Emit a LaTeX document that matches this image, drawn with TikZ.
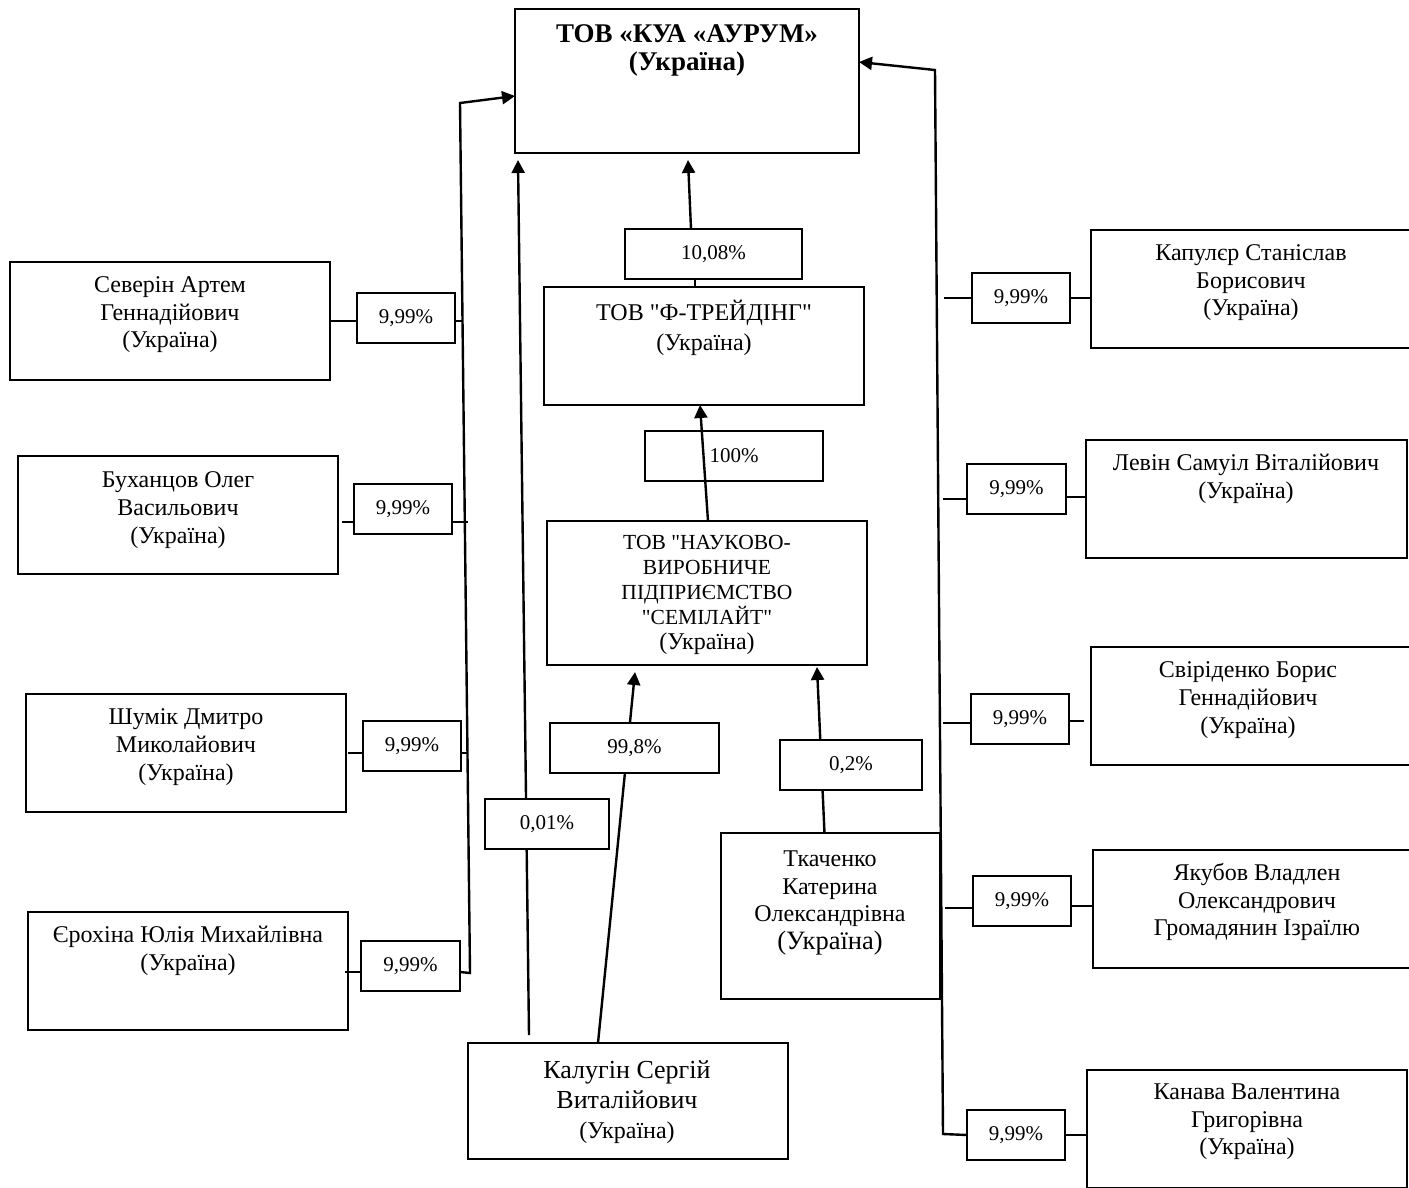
\documentclass[tikz,border=0pt]{standalone}
\usepackage{fontspec}
\setmainfont{Liberation Serif}
\usetikzlibrary{arrows.meta,backgrounds,calc}
\newcommand\qq{\XeTeXglyph\XeTeXcharglyph"22\relax}
\begin{document}
\begin{tikzpicture}[x=1pt,y=-1pt,
  box/.style={draw, line width=1.3pt, inner sep=0pt, outer sep=0pt},
  nm/.style={align=center, inner sep=0pt, font=\fontsize{24}{27.6}\selectfont},
  pct/.style={box, fill=white, minimum height=50pt, font=\fontsize{21}{24}\selectfont},
  ln/.style={line width=2pt},
  bus/.style={line width=2.4pt},
  arr/.style={line width=2.4pt, -{Triangle[length=13pt,width=13pt]}}]
\useasboundingbox (0,0) rectangle (1409,1187);
\clip (0,0) rectangle (1409,1187);

% main boxes
\node[box, minimum width=344pt, minimum height=144pt] (aur) at (687,81) {};
\node[nm, font=\fontsize{27}{28}\selectfont\bfseries] (aurt) at (687,50) {ТОВ «КУА «АУРУМ»\\(Україна)};
\node[box, minimum width=320pt, minimum height=118pt] (ftr) at (704,346) {};
\node[nm, font=\fontsize{24}{30}\selectfont] (ftrt) at (704,328) {ТОВ \qq Ф-ТРЕЙДІНГ\qq\\(Україна)};
\node[box, minimum width=320pt, minimum height=144pt] (sem) at (707,593) {};
\node[nm, font=\fontsize{21.5}{25}\selectfont] (semt) at (707,595) {ТОВ \qq НАУКОВО-\\ВИРОБНИЧЕ\\ПІДПРИЄМСТВО\\\qq СЕМІЛАЙТ\qq\\\fontsize{24}{26}\selectfont(Україна)};

% left persons
\node[box, minimum width=320pt, minimum height=118pt] (sev) at (170,321) {};
\node[nm] (sevt) at (170,315) {Северін Артем\\Геннадійович\\(Україна)};
\node[box, minimum width=320pt, minimum height=118pt] (buk) at (178,515) {};
\node[nm] (bukt) at (178,510) {Буханцов Олег\\Васильович\\(Україна)};
\node[box, minimum width=320pt, minimum height=118pt] (shu) at (186,753) {};
\node[nm] (shut) at (186,747) {Шумік Дмитро\\Миколайович\\(Україна)};
\node[box, minimum width=320pt, minimum height=118pt] (yer) at (188,971) {};
\node[nm] (yert) at (188,951) {Єрохіна Юлія Михайлівна\\(Україна)};

% right persons
\node[box, minimum width=320pt, minimum height=118pt] (kap) at (1251,289) {};
\node[nm] (kapt) at (1251,283) {Капулєр Станіслав\\Борисович\\(Україна)};
\node[box, minimum width=321pt, minimum height=118pt] (lev) at (1246.5,499) {};
\node[nm] (levt) at (1246,479) {Левін Самуіл Віталійович\\(Україна)};
\node[box, minimum width=320pt, minimum height=118pt] (svi) at (1251,706) {};
\node[nm] (svit) at (1248,700) {Свіріденко Борис\\Геннадійович\\(Україна)};
\node[box, minimum width=320pt, minimum height=118pt] (yak) at (1253,909) {};
\node[nm] (yakt) at (1257,902) {Якубов Владлен\\Олександрович\\Громадянин Ізраїлю};
\node[box, minimum width=320pt, minimum height=118pt] (kan) at (1247,1129) {};
\node[nm] (kant) at (1247,1122) {Канава Валентина\\Григорівна\\(Україна)};

% bottom persons
\node[box, minimum width=219pt, minimum height=166pt] (tka) at (830.5,916) {};
\node[nm] (tkat) at (830,903) {Ткаченко\\Катерина\\Олександрівна\\\fontsize{26.5}{30}\selectfont(Україна)};
\node[box, minimum width=320pt, minimum height=116pt] (kal) at (628,1101) {};
\node[nm, font=\fontsize{26}{30}\selectfont] (kalt) at (627,1102) {Калугін Сергій\\Виталійович\\\fontsize{24}{28}\selectfont(Україна)};

% percentage labels
\node[pct, minimum width=177pt] (p1008) at (713.5,254) {10,08\%};
\node[pct, minimum width=178pt] (p100) at (734,456) {100\%};
\node[pct, minimum width=124pt] (p001) at (547,824) {0,01\%};
\node[pct, minimum width=169pt] (p998) at (634.5,748) {99,8\%};
\node[pct, minimum width=142pt] (p02) at (851,765) {0,2\%};
\node[pct, minimum width=98pt] (sevp) at (406,318) {9,99\%};
\node[pct, minimum width=98pt] (bukp) at (403,509) {9,99\%};
\node[pct, minimum width=98pt] (shup) at (412,746) {9,99\%};
\node[pct, minimum width=99pt] (yerp) at (410.5,966) {9,99\%};
\node[pct, minimum width=98pt] (kapp) at (1021,298) {9,99\%};
\node[pct, minimum width=99pt] (levp) at (1016.5,489) {9,99\%};
\node[pct, minimum width=98pt] (svip) at (1020,719) {9,99\%};
\node[pct, minimum width=98pt] (yakp) at (1022,901) {9,99\%};
\node[pct, minimum width=98pt] (kanp) at (1016,1135) {9,99\%};

% bus coordinates
\coordinate (lbt) at (460,103);
\coordinate (lbb) at (470,973);
\coordinate (rbt) at (935,70);
\coordinate (rbb) at (943,1134);

\begin{scope}[on background layer]
  \draw[arr] ([xshift=-99pt,yshift=8pt]kal.north) -- ([xshift=3pt,yshift=-7pt]aur.south west);
  \draw[arr] ([xshift=-30pt]kal.north) -- ([xshift=-72pt,yshift=-7pt]sem.south);
  \draw[arr] ([xshift=-6pt]tka.north) -- ([xshift=110pt,yshift=-2pt]sem.south);
\end{scope}

\draw[arr] ([xshift=1pt]sem.north) -- ([xshift=-4pt]ftr.south);
\draw[ln] ([xshift=-9pt]ftr.north) -- ([xshift=-18.5pt]p1008.south);
\draw[arr] ([xshift=-22.5pt]p1008.north) -- ([xshift=1pt,yshift=-7pt]aur.south);

% left bus
\draw[arr] ($(yerp.east)+(0,6)$) -- (lbb) -- (lbt) -- ([yshift=-87pt]aur.north west);
\draw[ln] (sev.east) -- (sev.east -| sevp.west);
\draw[ln] (sev.east -| sevp.east) -- ++(7,0);
\draw[ln] ($(buk.east)+(4,7)$) -- ($(buk.east -| bukp.west)+(0,7)$);
\draw[ln] ($(buk.east -| bukp.east)+(0,7)$) -- ++(16,0);
\draw[ln] ($(shu.east)+(2,0)$) -- (shu.east -| shup.west);
\draw[ln] (shu.east -| shup.east) -- ++(7,0);
\draw[ln] ($(yer.east)+(-3,1)$) -- ($(yerp.west)+(0,6)$);

% right bus
\draw[arr] (kanp.west) -- (rbb) -- (rbt) -- ([yshift=-53pt]aur.north east);
\draw[ln] ([xshift=-28pt]kapp.west) -- (kapp.west);
\draw[ln] (kapp.east) -- (kapp.east -| kap.west);
\draw[ln] ($(levp.west)+(-24,10)$) -- ($(levp.west)+(0,10)$);
\draw[ln] ($(levp.east)+(0,8)$) -- ($(levp.east -| lev.west)+(0,8)$);
\draw[ln] ([xshift=-28pt,yshift=-4pt]svip.west) -- ([yshift=-4pt]svip.west);
\draw[ln] ([yshift=-2pt]svip.east) -- ([xshift=15pt,yshift=-2pt]svip.east);
\draw[bus] ([xshift=-28pt,yshift=-7pt]yakp.west) -- ([yshift=-7pt]yakp.west);
\draw[ln] ([yshift=-5pt]yakp.east) -- ([yshift=-5pt]yakp.east -| yak.west);
\draw[ln] (kanp.east) -- (kanp.east -| kan.west);
\end{tikzpicture}
\end{document}
